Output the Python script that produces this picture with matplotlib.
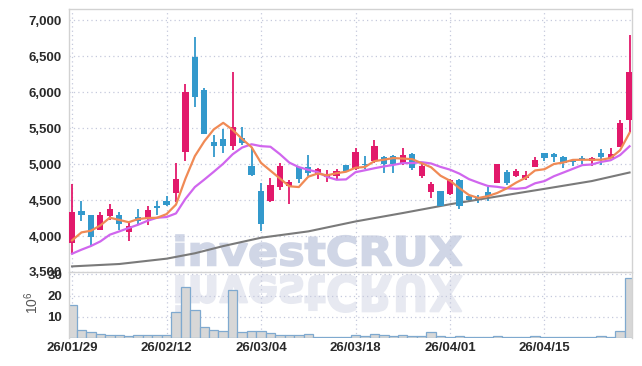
import numpy as np
import pandas as pd
import matplotlib
matplotlib.use("Agg")
import matplotlib.pyplot as plt
from matplotlib.textpath import TextPath
from matplotlib.patches import PathPatch
from matplotlib.font_manager import FontProperties
from matplotlib.transforms import Affine2D

plt.rcParams["font.family"] = ["Liberation Sans", "DejaVu Sans"]
plt.rcParams["font.weight"] = "bold"

# trading days (KRX, Seollal + substitute holiday removed)
dias = pd.bdate_range("2026-01-29", "2026-04-28")
dias = dias.drop(pd.to_datetime(["2026-02-16", "2026-02-17", "2026-02-18", "2026-03-02"]))

apertura = [3897, 4341, 4295, 4078, 4272, 4295, 4055, 4263, 4240, 4410,
            4480, 4591, 5160, 6491, 6029, 5308, 5354, 5257, 5363, 4975,
            4628, 4480, 4674, 4688, 4965, 4957, 4864, 4813, 4840, 4989,
            4933, 5000, 5035, 5096, 5114, 5003, 5141, 4827, 4605, 4628,
            4582, 4781, 4549, 4535, 4605, 4743, 4888, 4827, 4804, 4965,
            5151, 5141, 5104, 5044, 5090, 5048, 5151, 5082, 5243, 5617]
maximo = [4721, 4490, 4295, 4333, 4444, 4327, 4180, 4374, 4410, 4480,
          4549, 5012, 6108, 6760, 6061, 5400, 5484, 6283, 5512, 5243,
          4735, 4804, 5012, 4781, 4965, 5128, 4943, 4920, 4937, 4989,
          5229, 5110, 5336, 5114, 5128, 5220, 5155, 5012, 4757, 4628,
          4790, 4790, 4555, 4573, 4680, 5003, 4920, 4933, 4896, 5104,
          5155, 5150, 5110, 5068, 5114, 5104, 5207, 5220, 5613, 6792]
minimo = [3768, 4202, 3856, 4078, 4226, 4087, 3925, 4170, 4157, 4295,
          4410, 4466, 5035, 5798, 5419, 5104, 5151, 5197, 5266, 4827,
          4064, 4466, 4642, 4444, 4743, 4827, 4791, 4757, 4795, 4896,
          4920, 4930, 5020, 4882, 4874, 4990, 4920, 4804, 4527, 4410,
          4570, 4374, 4490, 4458, 4490, 4743, 4711, 4820, 4781, 4960,
          5048, 5021, 4951, 4975, 5003, 4975, 4989, 5080, 5240, 5451]
cierre = [4327, 4291, 3980, 4295, 4379, 4170, 4133, 4202, 4365, 4395,
          4424, 4795, 6001, 5936, 5419, 5252, 5252, 5516, 5298, 4850,
          4161, 4711, 4975, 4757, 4795, 4882, 4929, 4850, 4906, 4896,
          5160, 4980, 5257, 5007, 5007, 5128, 4938, 4975, 4725, 4420,
          4781, 4420, 4503, 4515, 4549, 5003, 4735, 4906, 4850, 5058,
          5090, 5096, 5012, 5030, 5068, 5090, 5096, 5137, 5567, 6275]
# volumen en millones
volumen = [15.7, 3.8, 2.9, 2.0, 1.4, 1.4, 0.95, 1.4, 1.4, 1.4,
           1.4, 12.4, 24.0, 13.3, 5.2, 3.8, 3.3, 22.4, 2.9, 3.3,
           3.3, 2.4, 1.6, 1.6, 1.6, 2.0, 0.5, 0.5, 0.5, 0.5,
           1.4, 0.95, 2.0, 1.6, 0.95, 1.4, 0.95, 0.95, 2.7, 0.95,
           0.5, 0.95, 0.5, 0.3, 0.5, 0.95, 0.5, 0.3, 0.3, 0.95,
           0.5, 0.5, 0.3, 0.3, 0.5, 0.5, 0.95, 0.5, 3.1, 28.1]

# primeros valores de las medias (dependen de dias anteriores)
ma5_inicio = [3939, 4050, 4073, 4147]
ma10_inicio = [3754, 3810, 3861, 3925, 4018, 4064, 4111, 4157, 4212]
# media larga (gris)
ma_larga_idx = [0, 5, 10, 13, 16, 20, 25, 30, 35, 40, 45, 50, 55, 59]
ma_larga = [3578, 3611, 3685, 3760, 3860, 3976, 4064, 4202, 4319, 4441, 4549, 4655, 4763, 4882]

c_sube = "#e2196b"
c_baja = "#3399cc"
c_grid = "#c5c9dc"
c_texto = "#2a2a2a"

x = np.arange(len(cierre))
o = np.array(apertura); h = np.array(maximo); l = np.array(minimo); c = np.array(cierre)
colores = [c_sube if c[i] >= o[i] else c_baja for i in x]

ma5 = pd.Series(c, dtype=float).rolling(5).mean().values
ma5[:len(ma5_inicio)] = ma5_inicio
ma10 = pd.Series(c, dtype=float).rolling(10).mean().values
ma10[:len(ma10_inicio)] = ma10_inicio

fig = plt.figure(figsize=(6.42, 3.66), dpi=100)
fig.patch.set_facecolor("white")
ax = fig.add_axes([69/642, 94/366, 563/642, 263/366])
axv = fig.add_axes([69/642, 28/366, 563/642, 65/366], sharex=ax)

# marca de agua con reflejo
tp = TextPath((0, 0), "investCRUX", size=1, prop=FontProperties(family="DejaVu Sans", weight="bold"))
ext = tp.get_extents()
sx = (462 - 176) / ext.width
t1 = (Affine2D().translate(-ext.x0, -ext.y0).scale(sx, (266 - 235) / ext.height)
      .translate(176, 366 - 266).scale(1/100) + fig.dpi_scale_trans)
t2 = (Affine2D().translate(-ext.x0, -ext.y0).scale(sx, -(313 - 275) / ext.height)
      .translate(176, 366 - 275).scale(1/100) + fig.dpi_scale_trans)
fig.add_artist(PathPatch(tp, transform=t1, facecolor="#d0d6e6", edgecolor="#d0d6e6",
                         linewidth=1.2, zorder=-1))
fig.add_artist(PathPatch(tp, transform=t2, facecolor="#e7e9f1", edgecolor="#e7e9f1",
                         linewidth=1.2, zorder=-1))

for a in (ax, axv):
    a.set_facecolor("none")
    a.grid(True, color=c_grid, linestyle=(0, (1, 2.5)), linewidth=0.9)
    a.set_axisbelow(True)
    a.tick_params(length=0, labelsize=9.5, labelcolor=c_texto, pad=5)
    for s in a.spines.values():
        s.set_color("#d2d2d2")
        s.set_linewidth(1)

# velas
ax.vlines(x, l, h, colors=colores, linewidth=1.3, zorder=2)
cuerpo = np.maximum(np.abs(c - o), 12)
ax.bar(x, cuerpo, bottom=np.minimum(o, c), width=0.66, color=colores, zorder=3)

ax.plot(ma_larga_idx, ma_larga, color="#7a7a7a", linewidth=1.5, zorder=2)
ax.plot(x, ma10, color="#d066ee", linewidth=1.6, zorder=4)
ax.plot(x, ma5, color="#f08a55", linewidth=1.6, zorder=4)

ax.set_ylim(3500, 7153)
ax.set_yticks(np.arange(3500, 7001, 500))
ax.yaxis.set_major_formatter(matplotlib.ticker.FuncFormatter(lambda v, p: f"{v:,.0f}"))
ax.set_xlim(-0.32, 59.26)
ax.tick_params(labelbottom=False)

axv.bar(x, volumen, width=1.0, color="#d7d7d7", edgecolor="#7fa9cf", linewidth=0.9, zorder=2)
axv.set_ylim(0, 30.6)
axv.set_yticks([10, 20, 30])
axv.spines["top"].set_visible(False)
axv.spines["bottom"].set_visible(False)
axv.set_ylabel(r"$\mathregular{10^6}$", color="#555555", fontsize=10, fontweight="normal")
axv.yaxis.set_label_coords(-0.05, 0.55)

ticks = x[::10]
axv.set_xticks(ticks)
axv.set_xticklabels([dias[i].strftime("%y/%m/%d") for i in ticks])
axv.tick_params(axis="x", pad=3)

fig.savefig("out.png", dpi=100)
